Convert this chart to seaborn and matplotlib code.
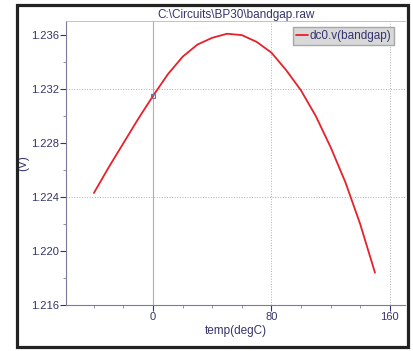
import pandas as pd
import matplotlib.pyplot as plt
import seaborn as sns
from matplotlib.patches import Rectangle
from matplotlib.ticker import MultipleLocator

# Bandgap voltage vs temperature
temp = [-40, -30, -20, -10, 0, 10, 20, 30, 40, 50, 60, 70,
        80, 90, 100, 110, 120, 130, 140, 150]
vout = [1.2243, 1.2262, 1.2280, 1.2298, 1.2315, 1.2331, 1.2344, 1.2353,
        1.2358, 1.2361, 1.2360, 1.2355, 1.2347, 1.2334, 1.2319, 1.2300,
        1.2277, 1.2251, 1.2220, 1.2184]
cursor_t = [0]
cursor_v = [1.2315]

navy = "#34346e"
df = pd.DataFrame({"temp": temp, "v": vout})

sns.set_style("white")
plt.rcParams["font.family"] = ["Liberation Sans", "DejaVu Sans"]

fig = plt.figure(figsize=(4.13, 3.51), dpi=100)
ax = fig.add_axes([0.160, 0.131, 0.821, 0.809])

sns.lineplot(data=df, x="temp", y="v", ax=ax, color="#e8202a", linewidth=1.3,
             label="dc0.v(bandgap)")
ax.plot(cursor_t, cursor_v, marker="s", markersize=3.5, mfc="none",
        mec="#7070a0", mew=0.8, linestyle="none")

ax.set_xlim(-58.8, 170.4)
ax.set_ylim(1.216, 1.23704)
ax.xaxis.set_major_locator(MultipleLocator(80))
ax.xaxis.set_minor_locator(MultipleLocator(20))
ax.yaxis.set_major_locator(MultipleLocator(0.004))
ax.yaxis.set_minor_locator(MultipleLocator(0.002))
ax.yaxis.set_major_formatter(plt.FuncFormatter(lambda v, p: f"{v:.3f}"))

# grid: solid at zero, dotted elsewhere
ax.axvline(0, color="#b0b0b0", linewidth=0.8, zorder=0)
for xv in [80, 160]:
    ax.axvline(xv, color="#b0b0b0", linewidth=0.7, linestyle=":", zorder=0)
for yv in [1.232, 1.224, 1.216]:
    ax.axhline(yv, color="#b0b0b0", linewidth=0.7, linestyle=":", zorder=0)

ax.tick_params(axis="both", which="major", direction="out", length=4, width=0.8,
               color=navy, labelcolor=navy, labelsize=8, pad=1)
ax.tick_params(axis="both", which="minor", direction="out", length=2, width=0.6,
               color="#8080a0")
ax.tick_params(axis="y", which="both", left=True)
ax.tick_params(axis="x", which="both", bottom=True)

for side in ["left", "bottom"]:
    ax.spines[side].set_color("#7a7a9a")
    ax.spines[side].set_linewidth(0.8)
ax.spines["top"].set_color("#b8b8c8")
ax.spines["top"].set_linewidth(0.6)
ax.spines["right"].set_visible(False)

ax.set_xlabel("temp(degC)", color=navy, fontsize=8.5, labelpad=2)
ax.set_ylabel("(V)", color=navy, fontsize=8.5, labelpad=1)
ax.set_title("C:\\Circuits\\BP30\\bandgap.raw", color=navy, fontsize=8.5, pad=1.5)

leg = ax.legend(loc="upper right", bbox_to_anchor=(0.967, 0.979), fontsize=8.5,
                frameon=True, fancybox=False, handlelength=1.0, handletextpad=0.1,
                borderpad=0.25, borderaxespad=0)
leg.get_frame().set_facecolor("#d8d8d8")
leg.get_frame().set_edgecolor("#a8a8a8")
leg.get_frame().set_alpha(1)
for t in leg.get_texts():
    t.set_color(navy)

# dark outer frame
fig.patches.append(Rectangle((0.041, 0.011), 0.947, 0.974, transform=fig.transFigure,
                             fill=False, edgecolor="#222222", linewidth=2.3))

fig.savefig("out.png", dpi=100)
